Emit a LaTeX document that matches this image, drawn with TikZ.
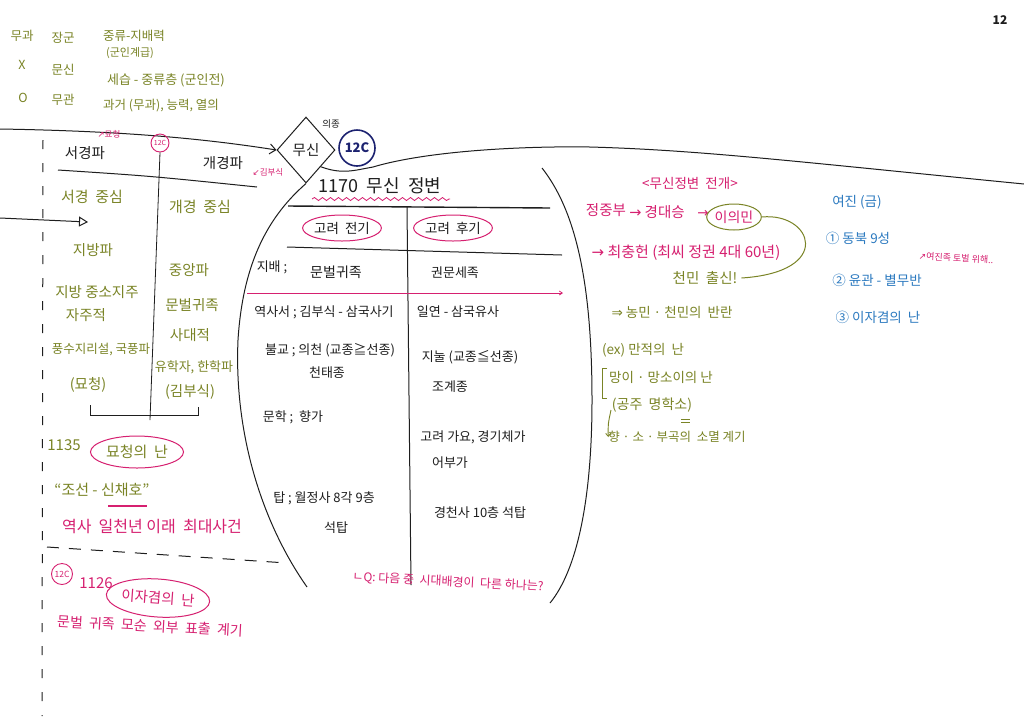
\documentclass[tikz,border=0pt]{standalone}
\usepackage{fontspec}
\setmainfont{Noto Sans CJK KR}
\newfontfamily\sym{DejaVu Sans}
\usetikzlibrary{shapes.geometric,arrows.meta,decorations.pathmorphing}
\definecolor{olv}{RGB}{122,132,38}
\definecolor{pnk}{RGB}{214,32,112}
\definecolor{nvy}{RGB}{28,34,112}
\definecolor{blu}{RGB}{44,122,192}
\definecolor{ink}{RGB}{30,30,30}
\tikzset{
  tx/.style={inner sep=0pt, font=\fontsize{13.5}{15}\selectfont, text=ink},
  tb/.style={tx, font=\fontsize{13}{15}\selectfont},
  ol/.style={tx, text=olv},
  olb/.style={ol, font=\fontsize{14.5}{16}\selectfont},
  pk/.style={tx, text=pnk},
  bl/.style={tx, text=blu},
  tiny/.style={font=\fontsize{8.5}{10}\selectfont},
  pen/.style={draw=ink, line width=1pt},
  oval/.style={ellipse, draw=pnk, line width=1pt, inner sep=0pt},
  ring/.style={circle, draw=pnk, line width=0.9pt, inner sep=0pt},
}
\begin{document}
\begin{tikzpicture}[x=1pt,y=-1pt]
\useasboundingbox (0,0) rectangle (1024,716);
\fill[white] (0,0) rectangle (1024,716);

% ---- top-left notes
\begin{scope}[every node/.style={ol, font=\fontsize{12.5}{14}\selectfont}]
\node (tl1) at (22,36) {무과};
\node (tl2) at (63,38) {장군};
\node (tl3) at (134,36) {중류-지배력};
\node[font=\fontsize{11}{13}\selectfont] (tl4) at (130,53) {(군인계급)};
\node (tl5) at (22,65) {X};
\node (tl6) at (63,70) {문신};
\node[font=\fontsize{13}{15}\selectfont] (tl7) at (166,80) {세습 - 중류층 (군인전)};
\node (tl8) at (23,98) {O};
\node (tl9) at (63,100) {무관};
\node (tl10) at (161,106) {과거 (무과), 능력, 열의};
\end{scope}

% ---- page number
\node[tx, font=\bfseries\fontsize{12}{14}\selectfont] (pg) at (1000,20) {12};

% ---- diamond and main arrow
\node[diamond, draw=ink, line width=1pt, inner sep=0pt, minimum width=58pt, minimum height=66pt, tx, font=\fontsize{14.5}{16}\selectfont] (mu) at (306,150) {무신};
\coordinate (a1) at (0,129);
\draw[pen, -{Straight Barb[length=6pt,width=10pt]}] (a1) .. controls (120,131) and (200,138) .. (mu.west);
\node[tx, font=\fontsize{9.5}{11}\selectfont] (uj) at (331,124) {의종};
\node[circle, draw=nvy, line width=1.6pt, minimum size=36pt, inner sep=0pt, text=nvy, font=\bfseries\fontsize{13}{15}\selectfont] (c12n) at (357,148) {12C};

% horizon line
\draw[pen] (mu.south east) .. controls (335,172) and (345,172) .. (357,170)
  .. controls (365,169) .. (373,167) .. controls (430,150) and (530,146) .. (590,147)
  .. controls (700,150) and (800,162) .. (1024,184);

% ---- left timeline
\node[pk, tiny] (ms) at (109,134) {{\sym ↗}묘청};
\node[tx, font=\fontsize{14.5}{16}\selectfont] (seo) at (85,153) {서경파};
\node[ring, minimum size=18pt, text=pnk, font=\fontsize{7}{8}\selectfont] (c12a) at (160,143) {12C};
\node[tx, font=\fontsize{14.5}{16}\selectfont] (gae) at (223,163) {개경파};
\node[pk, tiny] (kb) at (268,172) {{\sym ↙}김부식};
\draw[pen] (58,170) .. controls (150,176) .. (257,187);
\node[ol, font=\fontsize{15}{17}\selectfont] (sj) at (92,197) {서경 \ 중심};
\node[ol, font=\fontsize{15}{17}\selectfont] (gj) at (200,207) {개경 \ 중심};
\coordinate (a2) at (0,218);
\coordinate (a2e) at (88,222);
\draw[pen, -{Triangle[open, length=9pt, width=10pt]}] (a2) -- (a2e);
\draw[ink, line width=0.8pt] (c12a.south) -- (150,420);
\draw[pen, dash pattern=on 9pt off 14pt] (43,140) -- (42,716);

\node[olb] (l1) at (93,250) {지방파};
\node[olb] (r1) at (189,270) {중앙파};
\node[olb] (l2) at (97,292) {지방 중소지주};
\node[olb] (r2) at (192,305) {문벌귀족};
\node[olb] (l3) at (86,315) {자주적};
\node[olb] (r3) at (190,335) {사대적};
\node[ol, font=\fontsize{12.5}{14}\selectfont] (l4) at (101,350) {풍수지리설, 국풍파};
\node[ol, font=\fontsize{13}{14}\selectfont] (r4) at (194,367) {유학자, 한학파};
\node[olb] (l5) at (88,385) {(묘청)};
\node[olb] (r5) at (190,392) {(김부식)};
\draw[pen] (90,405) |- (198,415) -- (198,407);

\node[ol, font=\fontsize{15}{17}\selectfont] (y1135) at (64,445) {1135};
\node[oval, minimum width=93pt, minimum height=32pt, ol, font=\fontsize{15}{17}\selectfont] (myo) at (137,452) {묘청의 \ 난};
\node[ol, font=\fontsize{15}{17}\selectfont] (sch) at (102,490) {“조선 - 신채호”};
\draw[pnk, line width=1.2pt] (108,506) -- (147,506);
\node[pk, font=\fontsize{16}{18}\selectfont] (hist) at (152,527) {역사 \ 일천년 이래 \ 최대사건};
\draw[pen, dash pattern=on 12pt off 10pt] (47,547) -- (287,563);
\node[ring, minimum size=21pt, text=pnk, font=\fontsize{8.5}{10}\selectfont] (c12b) at (62,574) {12C};
\node[pk, font=\fontsize{15}{17}\selectfont] (y1126) at (96,583) {1126};
\node[oval, minimum width=90pt, minimum height=38pt, pk, font=\fontsize{14.5}{16}\selectfont, rotate=-4] (ijk) at (158,598) {이자겸의 \ 난};
\node[pk, font=\fontsize{14}{16}\selectfont, rotate=-3] (mb) at (150,626) {문벌 \ 귀족 \ 모순 \ 외부 \ 표출 \ 계기};

% ---- bowl
\draw[pen] (mu.south) .. controls (270,215) and (243,260) .. (238,340) .. controls (234,430) and (260,520) .. (307,587);
\draw[pen] (542,168) .. controls (575,210) and (592,280) .. (592,400) .. controls (592,500) and (577,570) .. (550,603);

% ---- table
\node[tx, font=\fontsize{18}{20}\selectfont] (ttl) at (380,186) {1170 \ 무신 \ 정변};
\draw[pnk, line width=0.8pt, decorate, decoration={snake, amplitude=1.5pt, segment length=8pt}] (312,199) -- (450,199);
\draw[pen, line width=1.4pt] (288,206) -- (550,208);
\draw[pen] (407,207) -- (411,585);
\draw[pen] (287,247) -- (562,255);
\node[oval, minimum width=78pt, minimum height=26pt, tb, font=\fontsize{13.5}{15}\selectfont] (early) at (342,228) {고려 \ 전기};
\node[oval, minimum width=70pt, minimum height=26pt, tb, font=\fontsize{13.5}{15}\selectfont] (late) at (453,228) {고려 \ 후기};
\node[tb] (t1) at (272,267) {지배 ;};
\node[tb, font=\fontsize{14}{16}\selectfont] (t2) at (336,272) {문벌귀족};
\node[tb] (t3) at (455,273) {권문세족};
\draw[pnk, line width=0.8pt, -{Straight Barb[length=3pt,width=4pt]}] (247,293) -- (563,293);
\node[tb] (t4) at (324,312) {역사서 ; 김부식 - 삼국사기};
\node[tb] (t5) at (458,312) {일연 - 삼국유사};
\node[tb] (t6) at (330,350) {불교 ; 의천 (교종≧선종)};
\node[tb] (t7) at (327,373) {천태종};
\node[tb] (t8) at (470,357) {지눌 (교종≦선종)};
\node[tb] (t9) at (450,387) {조계종};
\node[tb] (t10) at (293,417) {문학 ; \ 향가};
\node[tb] (t11) at (473,437) {고려 가요, 경기체가};
\node[tb] (t12) at (450,463) {어부가};
\node[tb] (t13) at (324,498) {탑 ; 월정사 8각 9층};
\node[tb] (t14) at (336,528) {석탑};
\node[tb] (t15) at (480,513) {경천사 10층 석탑};
\node[pk, font=\fontsize{12}{14}\selectfont, rotate=-3] (eq) at (448,582) {ㄴQ: 다음 중 \ 시대배경이 \ 다른 하나는?};

% ---- right notes
\node[pk] (dev) at (690,183) {<무신정변 \ 전개>};
\node[pk, font=\fontsize{14.5}{16}\selectfont] (p1) at (606,210) {정중부};
\node[pk, font=\fontsize{14.5}{16}\selectfont] (p2) at (657,212) {{\sym →} 경대승};
\node[pk] (p3) at (703,214) {{\sym →}};
\node[ellipse, draw=olv, line width=1pt, inner sep=0pt, minimum width=54pt, minimum height=26pt, pk, font=\fontsize{14}{16}\selectfont] (imin) at (734,217) {이의민};
\node[pk, font=\fontsize{15}{17}\selectfont] (p4) at (686,253) {{\sym →} 최충헌 (최씨 정권 4대 60년)};
\node[ol, font=\fontsize{14.5}{16}\selectfont] (chm) at (705,278) {천민 \ 출신!};
\draw[olv, line width=1pt] (imin.east) .. controls (812,212) and (835,272) .. ([xshift=4pt]chm.east);
\node[ol] (r1n) at (672,312) {{\sym ⇒} 농민 · 천민의 \ 반란};
\node[ol] (r2n) at (643,350) {(ex) 만적의 \ 난};
\draw[olv, line width=0.9pt] (607,368) -- (602,368) -- (602,398) -- (607,398);
\node[ol] (r3n) at (661,377) {망이 · 망소이의 난};
\node[ol, font=\fontsize{14}{16}\selectfont] (r4n) at (652,405) {(공주 \ 명학소)};
\draw[olv, line width=0.7pt] (681,419) -- (690,419) (681,422) -- (690,422);
\node[ol, font=\fontsize{12.5}{14}\selectfont] (r5n) at (677,437) {향 · 소 · 부곡의 \ 소멸 계기};
\draw[olv, line width=0.9pt, -{Straight Barb[length=3pt,width=5pt]}] (611,410) .. controls (608,424) .. (r5n.west);

\node[bl] (b1) at (857,202) {여진 (금)};
\node[bl] (b2) at (858,238) {① 동북 9성};
\node[bl] (b3) at (877,280) {② 윤관 - 별무반};
\node[bl] (b4) at (878,317) {③ 이자겸의 \ 난};
\node[pk, font=\fontsize{9}{10}\selectfont, rotate=-3] (b5) at (956,258) {{\sym ↗}여진족 토벌 위해..};
\end{tikzpicture}
\end{document}
